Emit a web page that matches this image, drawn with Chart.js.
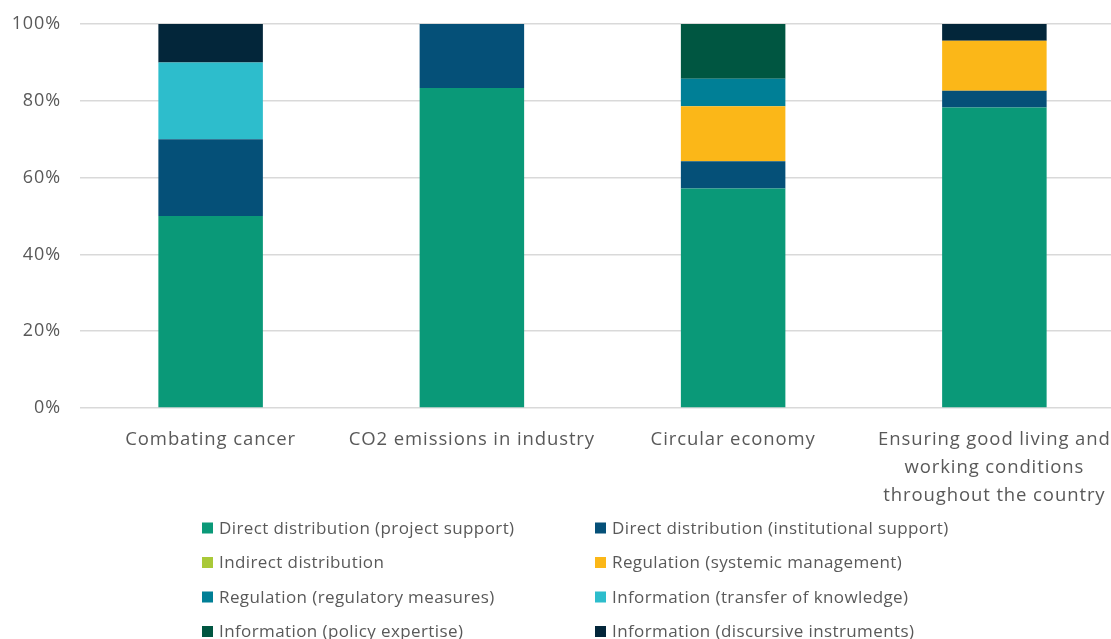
<!DOCTYPE html>
<html>
<head>
<meta charset="utf-8">
<script src="https://cdn.jsdelivr.net/npm/chart.js@4/dist/chart.umd.min.js"></script>
<style>
  html, body { margin: 0; padding: 0; background: #ffffff; overflow: hidden; }
  #wrap { width: 1125px; height: 639px; }
</style>
</head>
<body>
<div id="wrap"><canvas id="c" width="1125" height="639"></canvas></div>
<script>
// ---- data ----
const categories = [
  'Combating cancer',
  'CO2 emissions in industry',
  'Circular economy',
  ['Ensuring good living and', 'working conditions', 'throughout the country']
];
const seriesNames = [
  'Direct distribution (project support)',
  'Direct distribution (institutional support)',
  'Indirect distribution',
  'Regulation (systemic management)',
  'Regulation (regulatory measures)',
  'Information (transfer of knowledge)',
  'Information (policy expertise)',
  'Information (discursive instruments)'
];
const projectSupport       = [50.00, 83.33, 57.14, 78.26];
const institutionalSupport = [20.00, 16.67,  7.14,  4.35];
const indirectDistribution = [ 0,     0,     0,     0   ];
const systemicManagement   = [ 0,     0,    14.29, 13.04];
const regulatoryMeasures   = [ 0,     0,     7.14,  0   ];
const transferOfKnowledge  = [20.00,  0,     0,     0   ];
const policyExpertise      = [ 0,     0,    14.29,  0   ];
const discursiveInstruments= [10.00,  0,     0,     4.35];
const yTicks = [0, 20, 40, 60, 80, 100];

const seriesValues = [projectSupport, institutionalSupport, indirectDistribution,
  systemicManagement, regulatoryMeasures, transferOfKnowledge, policyExpertise, discursiveInstruments];
const seriesColors = ['#0A9978', '#055078', '#A9C938', '#FBB718', '#007F96', '#2DBDCC', '#005641', '#03263A'];

const FONT = "'Open Sans', 'Noto Sans', sans-serif";
const TXT = '#595959';

const spacing = {
  id: 'spacing',
  beforeDraw(chart) { chart.ctx.letterSpacing = '0.9px'; }
};

const gridLegend = {
  id: 'gridLegend',
  afterDraw(chart) {
    const ctx = chart.ctx;
    ctx.save();
    ctx.letterSpacing = '0.4px';
    ctx.font = '17px ' + FONT;
    ctx.textBaseline = 'middle';
    ctx.textAlign = 'left';
    chart.data.datasets.forEach((ds, i) => {
      const col = i % 2, row = Math.floor(i / 2);
      const bx = col ? 595 : 202;
      const cy = 528 + row * 34.5;
      ctx.fillStyle = ds.backgroundColor;
      ctx.fillRect(bx, cy - 5.5, 11, 11);
      ctx.fillStyle = TXT;
      ctx.fillText(ds.label, bx + 17, cy + 1);
    });
    ctx.restore();
  }
};

new Chart(document.getElementById('c'), {
  type: 'bar',
  data: {
    labels: categories,
    datasets: seriesNames.map((n, i) => ({
      label: n,
      data: seriesValues[i],
      backgroundColor: seriesColors[i],
      borderWidth: 0,
      categoryPercentage: 1.0,
      barPercentage: 0.4
    }))
  },
  options: {
    responsive: false,
    animation: false,
    devicePixelRatio: 1,
    layout: { padding: { top: 24, right: 0, bottom: 0, left: 0 } },
    plugins: {
      legend: { display: false },
      tooltip: { enabled: false }
    },
    scales: {
      x: {
        stacked: true,
        grid: { display: false, drawTicks: false },
        border: { display: false },
        ticks: {
          color: TXT,
          font: { family: FONT, size: 18.5, lineHeight: 1.5 },
          padding: 18,
          maxRotation: 0,
          autoSkip: false
        },
        afterFit(scale) { scale.height = 231; }
      },
      y: {
        stacked: true,
        min: 0,
        max: 100,
        afterBuildTicks(scale) { scale.ticks = yTicks.map(v => ({ value: v })); },
        grid: { color: '#D9D9D9', lineWidth: 1.5, drawTicks: false },
        border: { display: false },
        ticks: {
          color: TXT,
          font: { family: FONT, size: 18 },
          padding: 19,
          callback: v => v + '%'
        },
        afterFit(scale) { scale.width = 80; scale.paddingTop = 0; scale.paddingBottom = 0; }
      }
    }
  },
  plugins: [spacing, gridLegend]
});
</script>
</body>
</html>
